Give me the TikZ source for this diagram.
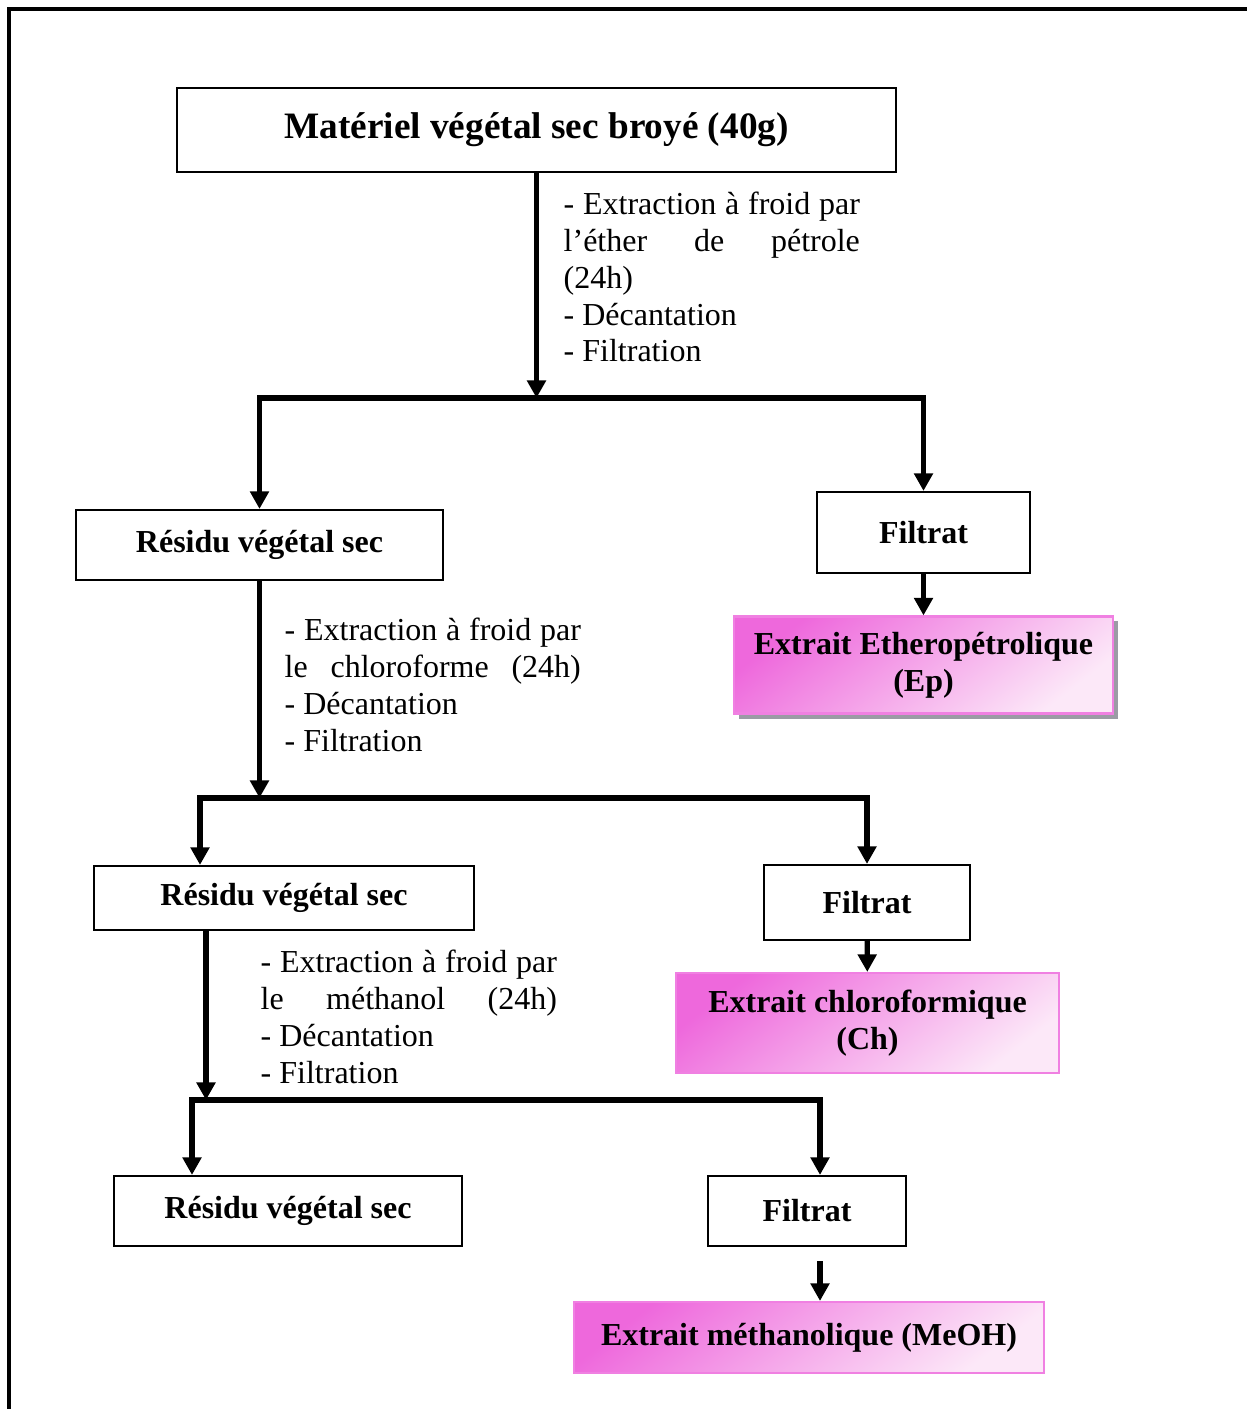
\documentclass[tikz,border=0pt]{standalone}
\usepackage{fontspec}
\setmainfont{Liberation Serif}
\usepackage{xcolor}
\definecolor{pinkdark}{RGB}{238,104,220}
\definecolor{pinklight}{RGB}{252,232,248}
\definecolor{pinkborder}{RGB}{240,128,226}
\definecolor{shadowgray}{RGB}{155,155,165}
\usepackage{tikz}
\usetikzlibrary{arrows.meta,positioning,shadows}

\begin{document}
\begin{tikzpicture}[
    x=0.01cm, y=-0.01cm,
    box/.style={rectangle, draw, line width=0.6pt, align=center, inner sep=2pt, font=\fontsize{9.1}{10.5}\selectfont\bfseries},
    pinkbox/.style={box, draw=pinkborder, top color=pinkdark, bottom color=pinklight, shading angle=38},
    note/.style={anchor=north west, inner sep=0pt, text width=2.96cm, align=justify, font=\fontsize{9.1}{10.5}\selectfont},
    arrow/.style={-{Triangle[width=5.2pt,length=5pt]}, line width=1.5pt}
]
\useasboundingbox (0,0) rectangle (1247,1409);

% cadre
\draw[line width=1.1pt] (9,1409) -- (9,9) -- (1247,9);

\node[box, minimum width=7.19cm, minimum height=0.84cm, font=\fontsize{10.6}{12.5}\selectfont\bfseries] (mat) at (536.5,130) {Matériel végétal sec broyé (40g)};

\node[note] (ext1) at (563,191) {- Extraction à froid par\linebreak l’éther de pétrole\linebreak (24h)\\- Décantation\\- Filtration};

\node[box, minimum width=3.67cm, minimum height=0.70cm] (res1) at (259.5,545) {Résidu végétal sec};
\node[box, minimum width=2.13cm, minimum height=0.81cm] (filt1) at (923.5,532.5) {Filtrat};
\node[pinkbox, minimum width=3.79cm, minimum height=0.97cm, drop shadow={shadow xshift=0.05cm, shadow yshift=-0.05cm, fill=shadowgray, opacity=1}] (ep) at (923.5,665) {Extrait Etheropétrolique\\(Ep)};

\node[note] (ext2) at (284,617) {- Extraction à froid par\linebreak le chloroforme (24h)\linebreak - Décantation\\- Filtration};

\node[box, minimum width=3.80cm, minimum height=0.64cm] (res2) at (284,898) {Résidu végétal sec};
\node[box, minimum width=2.06cm, minimum height=0.75cm] (filt2) at (867,902.5) {Filtrat};
\node[pinkbox, minimum width=3.83cm, minimum height=1.00cm] (ch) at (867.5,1023) {Extrait chloroformique\\(Ch)};

\node[note] (ext3) at (260,949) {- Extraction à froid par\linebreak le méthanol (24h)\linebreak - Décantation\\- Filtration};

\node[box, minimum width=3.48cm, minimum height=0.70cm] (res3) at (288,1211) {Résidu végétal sec};
\node[box, minimum width=1.98cm, minimum height=0.70cm] (filt3) at (807,1211) {Filtrat};
\node[pinkbox, minimum width=4.70cm, minimum height=0.71cm] (meoh) at (809,1337.5) {Extrait méthanolique (MeOH)};

% points de branchement
\coordinate (j1) at (536.5,398);
\coordinate (j2) at (259.5,798);
\coordinate (k2) at (200,798);
\coordinate (j3) at (206,1100);
\coordinate (k3) at (192,1100);
\coordinate (m3) at (820,1100);

\draw[arrow] (mat) -- (j1);
\draw[arrow] (j1) -| (res1.north);
\draw[arrow] (j1) -| (filt1.north);
\draw[arrow] (filt1) -- (ep);

\draw[arrow] (res1) -- (j2);
\draw[arrow] (j2) -| (k2 |- res2.north);
\draw[arrow] (j2) -| (filt2.north);
\draw[arrow] (filt2) -- (ch);

\draw[arrow] (res2.south -| j3) -- (j3);
\draw[arrow] (j3) -| (k3 |- res3.north);
\draw[arrow] (j3) -| (m3 |- filt3.north);
\draw[arrow, shorten <=0.14cm] (filt3.south -| m3) -- (meoh.north -| m3);

\end{tikzpicture}
\end{document}
